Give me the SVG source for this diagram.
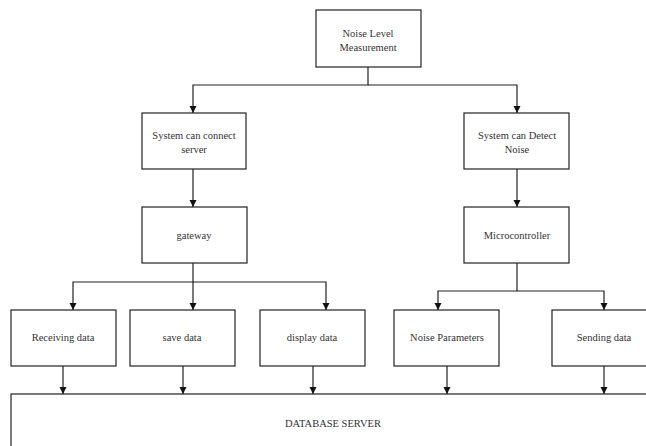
<svg xmlns="http://www.w3.org/2000/svg" width="646" height="446" viewBox="0 0 646 446">
<style>
.box{fill:#fff;stroke:#222;stroke-width:1.2}
.lbl{font-family:"Liberation Serif","Times New Roman",serif;font-size:10.5px;fill:#333;text-anchor:middle}
.ln{fill:none;stroke:#222;stroke-width:1.2}
</style>
<defs>
<marker id="ah" markerWidth="8" markerHeight="8" refX="7" refY="4" orient="auto" markerUnits="userSpaceOnUse">
<path d="M0,0.5 L7,4 L0,7.5 Z" fill="#111"/>
</marker>
</defs>
<rect width="646" height="446" fill="#fff"/>
<g id="connectors">
<path class="ln" d="M368,67 V85 H193 V113" marker-end="url(#ah)"/>
<path class="ln" d="M368,85 H517 V113" marker-end="url(#ah)"/>
<path class="ln" d="M193,169 V207" marker-end="url(#ah)"/>
<path class="ln" d="M517,169 V207" marker-end="url(#ah)"/>
<path class="ln" d="M193,263 V282 H73 V310" marker-end="url(#ah)"/>
<path class="ln" d="M193,282 V310" marker-end="url(#ah)"/>
<path class="ln" d="M193,282 H326 V310" marker-end="url(#ah)"/>
<path class="ln" d="M517,263 V291 H438 V310" marker-end="url(#ah)"/>
<path class="ln" d="M517,291 H604 V310" marker-end="url(#ah)"/>
<path class="ln" d="M63,366 V394" marker-end="url(#ah)"/>
<path class="ln" d="M183,366 V394" marker-end="url(#ah)"/>
<path class="ln" d="M313,366 V394" marker-end="url(#ah)"/>
<path class="ln" d="M447,366 V394" marker-end="url(#ah)"/>
<path class="ln" d="M604,366 V394" marker-end="url(#ah)"/>
</g>
<g id="noise-level">
<rect class="box" x="316" y="10" width="105" height="57"/>
<text class="lbl" x="368" y="37">Noise Level</text>
<text class="lbl" x="368" y="51">Measurement</text>
</g>
<g id="connect-server">
<rect class="box" x="142" y="113" width="104" height="56"/>
<text class="lbl" x="194" y="139">System can connect</text>
<text class="lbl" x="194" y="153">server</text>
</g>
<g id="detect-noise">
<rect class="box" x="464" y="113" width="105" height="56"/>
<text class="lbl" x="517" y="139">System can Detect</text>
<text class="lbl" x="517" y="153">Noise</text>
</g>
<g id="gateway">
<rect class="box" x="142" y="207" width="105" height="56"/>
<text class="lbl" x="194" y="239">gateway</text>
</g>
<g id="microcontroller">
<rect class="box" x="464" y="207" width="105" height="56"/>
<text class="lbl" x="517" y="239">Microcontroller</text>
</g>
<g id="receiving-data">
<rect class="box" x="11" y="310" width="105" height="56"/>
<text class="lbl" x="63" y="341">Receiving data</text>
</g>
<g id="save-data">
<rect class="box" x="130" y="310" width="105" height="56"/>
<text class="lbl" x="182" y="341">save data</text>
</g>
<g id="display-data">
<rect class="box" x="260" y="310" width="105" height="56"/>
<text class="lbl" x="312" y="341">display data</text>
</g>
<g id="noise-parameters">
<rect class="box" x="394" y="310" width="105" height="56"/>
<text class="lbl" x="447" y="341">Noise Parameters</text>
</g>
<g id="sending-data">
<rect class="box" x="552" y="310" width="105" height="56"/>
<text class="lbl" x="604" y="341">Sending data</text>
</g>
<g id="database-server">
<rect class="box" x="11" y="394" width="700" height="100"/>
<text class="lbl" x="333" y="427">DATABASE SERVER</text>
</g>
</svg>
